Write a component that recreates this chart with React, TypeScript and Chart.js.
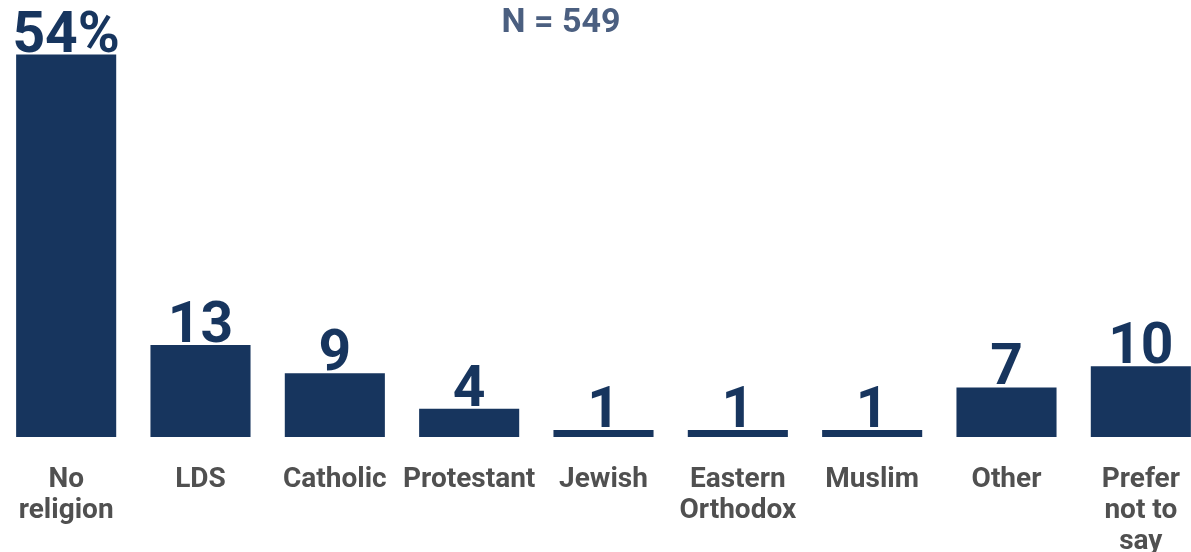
import React, { useEffect, useRef } from "react";
import { Chart, registerables } from "chart.js";

Chart.register(...registerables);

const categories: string[][] = [
  ["No", "religion"],
  ["LDS"],
  ["Catholic"],
  ["Protestant"],
  ["Jewish"],
  ["Eastern", "Orthodox"],
  ["Muslim"],
  ["Other"],
  ["Prefer", "not to", "say"],
];
const values: number[] = [54, 13, 9, 4, 1, 1, 1, 7, 10];
const valueLabels: string[] = ["54%", "13", "9", "4", "1", "1", "1", "7", "10"];
const titleText = "N = 549";

const BAR = "#17355e";
const FONT = "Roboto, 'DejaVu Sans', sans-serif";

export default function App() {
  const ref = useRef<HTMLCanvasElement | null>(null);
  useEffect(() => {
    if (!ref.current) return;
    const labelPlugin = {
      id: "valueLabels",
      afterDatasetsDraw(chart: any) {
        const ctx = chart.ctx;
        const meta = chart.getDatasetMeta(0);
        ctx.save();
        ctx.fillStyle = BAR;
        ctx.font = `bold 57px ${FONT}`;
        ctx.textAlign = "center";
        ctx.textBaseline = "alphabetic";
        meta.data.forEach((el: any, i: number) => {
          ctx.fillText(valueLabels[i], el.x, el.y - 3);
        });
        ctx.restore();
      },
    };
    const titlePlugin = {
      id: "nTitle",
      afterDraw(chart: any) {
        const ctx = chart.ctx;
        ctx.save();
        ctx.fillStyle = "#4b5f80";
        ctx.font = `bold 34px ${FONT}`;
        ctx.textAlign = "center";
        ctx.textBaseline = "alphabetic";
        ctx.fillText(titleText, 563, 32);
        ctx.restore();
      },
    };
    const chart = new Chart(ref.current, {
      type: "bar",
      data: {
        labels: categories,
        datasets: [
          {
            data: values,
            backgroundColor: BAR,
            barPercentage: 0.745,
            categoryPercentage: 1,
          },
        ],
      },
      options: {
        animation: false,
        responsive: false,
        maintainAspectRatio: false,
        layout: { padding: { top: 12, left: 1, right: 1, bottom: 0 } },
        plugins: {
          legend: { display: false },
          tooltip: { enabled: false },
          title: { display: false },
        },
        scales: {
          x: {
            grid: { display: false, drawTicks: false },
            border: { display: false },
            ticks: {
              color: "#505050",
              font: { family: FONT, size: 28, weight: "bold", lineHeight: 1.107 },
              padding: 28,
              maxRotation: 0,
              autoSkip: false,
            },
            afterFit(scale: any) {
              scale.paddingLeft = 0;
              scale.paddingRight = 0;
              scale.height = 115;
            },
          },
          y: {
            display: false,
            min: 0,
            max: 60,
          },
        },
      },
      plugins: [labelPlugin, titlePlugin],
    });
    return () => chart.destroy();
  }, []);
  return (
    <div style={{ position: "fixed", left: -2, top: 0, width: 1211, height: 552 }}>
      <canvas ref={ref} width={1211} height={552} style={{ display: "block" }} />
    </div>
  );
}
